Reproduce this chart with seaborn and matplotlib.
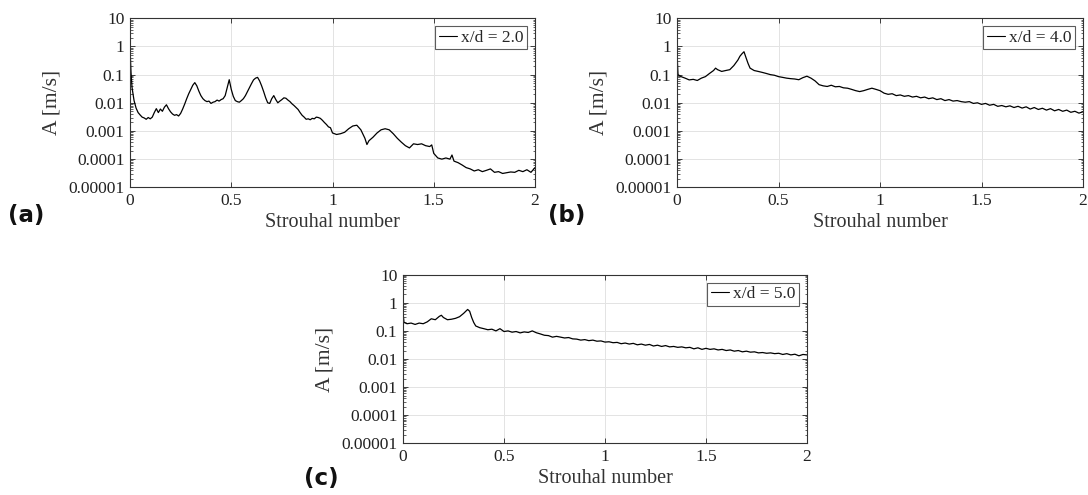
import numpy as np
import pandas as pd
import matplotlib
matplotlib.use("Agg")
import matplotlib.pyplot as plt
import matplotlib.ticker as mticker
import seaborn as sns

# ---------------- data ----------------
st_a = [0.00, 0.005, 0.01, 0.02, 0.03, 0.04, 0.05, 0.06, 0.07, 0.08, 0.09,
        0.10, 0.11, 0.12, 0.13, 0.14, 0.15, 0.16, 0.17, 0.18, 0.19,
        0.20, 0.21, 0.22, 0.23, 0.24, 0.25, 0.26, 0.27, 0.28, 0.29,
        0.30, 0.31, 0.32, 0.33, 0.34, 0.35, 0.36, 0.37, 0.38, 0.39,
        0.40, 0.41, 0.42, 0.43, 0.44, 0.45, 0.46, 0.47, 0.48, 0.49,
        0.50, 0.51, 0.52, 0.53, 0.54, 0.55, 0.56, 0.57, 0.58, 0.59,
        0.60, 0.61, 0.62, 0.63, 0.64, 0.65, 0.66, 0.67, 0.68, 0.69,
        0.70, 0.71, 0.72, 0.73, 0.74, 0.75, 0.76, 0.77, 0.78, 0.79,
        0.80, 0.81, 0.82, 0.83, 0.84, 0.85, 0.86, 0.87, 0.88, 0.89,
        0.90, 0.91, 0.92, 0.93, 0.94, 0.95, 0.96, 0.97, 0.98, 0.99,
        1.00, 1.02, 1.04, 1.06, 1.08, 1.10, 1.12, 1.14, 1.16, 1.17, 1.18,
        1.20, 1.22, 1.24, 1.26, 1.28, 1.30, 1.32, 1.34, 1.36, 1.38,
        1.40, 1.42, 1.44, 1.46, 1.48, 1.49, 1.50, 1.52, 1.54, 1.56, 1.58, 1.59,
        1.60, 1.62, 1.64, 1.66, 1.68, 1.70, 1.72, 1.74, 1.76, 1.78,
        1.80, 1.82, 1.84, 1.86, 1.88, 1.90, 1.92, 1.94, 1.96, 1.98, 2.00]
amp_a = [0.9, 0.12, 0.035, 0.012, 0.0065, 0.0045, 0.0037, 0.0031, 0.0029, 0.0026, 0.0030,
         0.0027, 0.0031, 0.0045, 0.0062, 0.0045, 0.0060, 0.0050, 0.0070, 0.0085, 0.0062,
         0.0048, 0.0040, 0.0036, 0.0038, 0.0034, 0.0042, 0.0060, 0.0090, 0.014, 0.021,
         0.030, 0.042, 0.052, 0.040, 0.026, 0.018, 0.014, 0.012, 0.011, 0.0115,
         0.0095, 0.0105, 0.011, 0.0125, 0.0115, 0.013, 0.014, 0.018, 0.035, 0.066,
         0.030, 0.017, 0.012, 0.011, 0.0105, 0.012, 0.014, 0.018, 0.025, 0.035,
         0.048, 0.065, 0.075, 0.080, 0.060, 0.040, 0.025, 0.015, 0.010, 0.0095,
         0.014, 0.018, 0.013, 0.010, 0.0115, 0.013, 0.015, 0.0145, 0.0125, 0.011,
         0.0092, 0.0080, 0.0068, 0.0058, 0.0045, 0.0036, 0.0031, 0.0026, 0.0027, 0.0025,
         0.0028, 0.0027, 0.0031, 0.0030, 0.0028, 0.0024, 0.0020, 0.0017, 0.0014, 0.0013,
         0.00085, 0.00075, 0.00080, 0.00090, 0.0012, 0.0015, 0.0016, 0.0011, 0.00055, 0.00033, 0.00045,
         0.00060, 0.00085, 0.0011, 0.0012, 0.0011, 0.00080, 0.00055, 0.00040, 0.00030, 0.00025,
         0.00035, 0.00033, 0.00035, 0.00030, 0.00028, 0.00032, 0.00016, 0.00011, 0.00010, 0.00011, 0.00010, 0.00014,
         0.000085, 0.000075, 0.000062, 0.000050, 0.000045, 0.000038, 0.000042, 0.000036, 0.000040, 0.000045,
         0.000034, 0.000036, 0.000031, 0.000033, 0.000035, 0.000034, 0.000040, 0.000036, 0.000042, 0.000034, 0.000050]

st_b = [0.00, 0.005, 0.02, 0.04, 0.06, 0.08, 0.10, 0.12, 0.14, 0.16, 0.18, 0.19,
        0.20, 0.22, 0.24, 0.26, 0.28, 0.30, 0.31, 0.32, 0.33, 0.34, 0.35, 0.36, 0.38,
        0.40, 0.42, 0.44, 0.46, 0.48, 0.50, 0.52, 0.54, 0.56, 0.58,
        0.60, 0.62, 0.64, 0.66, 0.68, 0.70, 0.72, 0.74, 0.76, 0.78,
        0.80, 0.82, 0.84, 0.86, 0.88, 0.90, 0.92, 0.94, 0.96, 0.98,
        1.00, 1.02, 1.04, 1.06, 1.08, 1.10, 1.12, 1.14, 1.16, 1.18,
        1.20, 1.22, 1.24, 1.26, 1.28, 1.30, 1.32, 1.34, 1.36, 1.38,
        1.40, 1.42, 1.44, 1.46, 1.48, 1.50, 1.52, 1.54, 1.56, 1.58,
        1.60, 1.62, 1.64, 1.66, 1.68, 1.70, 1.72, 1.74, 1.76, 1.78,
        1.80, 1.82, 1.84, 1.86, 1.88, 1.90, 1.92, 1.94, 1.96, 1.98, 2.00]
amp_b = [0.6, 0.10, 0.085, 0.075, 0.065, 0.068, 0.062, 0.075, 0.085, 0.11, 0.14, 0.17,
         0.15, 0.13, 0.14, 0.15, 0.21, 0.33, 0.45, 0.55, 0.65, 0.40, 0.25, 0.17, 0.14,
         0.13, 0.12, 0.11, 0.10, 0.095, 0.085, 0.080, 0.075, 0.072, 0.070,
         0.066, 0.078, 0.088, 0.075, 0.060, 0.044, 0.040, 0.038, 0.042, 0.037,
         0.038, 0.034, 0.033, 0.030, 0.027, 0.025, 0.027, 0.030, 0.033, 0.030,
         0.027, 0.022, 0.020, 0.021, 0.018, 0.019, 0.017, 0.018, 0.016, 0.017,
         0.015, 0.016, 0.014, 0.015, 0.013, 0.014, 0.012, 0.013, 0.0115, 0.012,
         0.011, 0.0105, 0.0110, 0.0095, 0.0100, 0.0088, 0.0095, 0.0082, 0.0088, 0.0075,
         0.0080, 0.0072, 0.0078, 0.0068, 0.0075, 0.0065, 0.0072, 0.0060, 0.0068, 0.0058,
         0.0064, 0.0055, 0.0062, 0.0052, 0.0058, 0.0050, 0.0055, 0.0046, 0.0050, 0.0043, 0.0048]

st_c = [0.00, 0.005, 0.02, 0.04, 0.06, 0.08, 0.10, 0.12, 0.14, 0.16, 0.18, 0.19,
        0.20, 0.22, 0.24, 0.26, 0.28, 0.30, 0.32, 0.33, 0.34, 0.35, 0.36, 0.38,
        0.40, 0.42, 0.44, 0.46, 0.48, 0.50, 0.52, 0.54, 0.56, 0.58,
        0.60, 0.62, 0.64, 0.66, 0.68, 0.70, 0.72, 0.74, 0.76, 0.78,
        0.80, 0.82, 0.84, 0.86, 0.88, 0.90, 0.92, 0.94, 0.96, 0.98,
        1.00, 1.02, 1.04, 1.06, 1.08, 1.10, 1.12, 1.14, 1.16, 1.18,
        1.20, 1.22, 1.24, 1.26, 1.28, 1.30, 1.32, 1.34, 1.36, 1.38,
        1.40, 1.42, 1.44, 1.46, 1.48, 1.50, 1.52, 1.54, 1.56, 1.58,
        1.60, 1.62, 1.64, 1.66, 1.68, 1.70, 1.72, 1.74, 1.76, 1.78,
        1.80, 1.82, 1.84, 1.86, 1.88, 1.90, 1.92, 1.94, 1.96, 1.98, 2.00]
amp_c = [0.45, 0.20, 0.18, 0.19, 0.17, 0.19, 0.18, 0.21, 0.27, 0.25, 0.33, 0.36,
         0.30, 0.25, 0.26, 0.28, 0.32, 0.42, 0.58, 0.50, 0.30, 0.20, 0.15, 0.13,
         0.12, 0.11, 0.115, 0.10, 0.12, 0.095, 0.10, 0.090, 0.095, 0.085,
         0.092, 0.088, 0.10, 0.086, 0.078, 0.070, 0.068, 0.060, 0.064, 0.060,
         0.056, 0.058, 0.052, 0.051, 0.047, 0.049, 0.045, 0.047, 0.043, 0.044,
         0.040, 0.041, 0.038, 0.039, 0.035, 0.037, 0.034, 0.036, 0.032, 0.034,
         0.031, 0.033, 0.029, 0.031, 0.028, 0.030, 0.027, 0.028, 0.026, 0.027,
         0.025, 0.026, 0.023, 0.025, 0.022, 0.024, 0.022, 0.023, 0.021, 0.022,
         0.020, 0.021, 0.019, 0.020, 0.018, 0.019, 0.0175, 0.018, 0.0165, 0.017,
         0.016, 0.0165, 0.0155, 0.016, 0.0145, 0.0155, 0.014, 0.0148, 0.013, 0.0145, 0.014]

series_labels = ["x/d = 2.0", "x/d = 4.0", "x/d = 5.0"]
panel_tags = ["(a)", "(b)", "(c)"]
x_ticks = [0, 0.5, 1, 1.5, 2]
x_tick_labels = ["0", "0.5", "1", "1.5", "2"]
y_ticks = [1e-5, 1e-4, 1e-3, 1e-2, 1e-1, 1, 10]
y_tick_labels = ["0.00001", "0.0001", "0.001", "0.01", "0.1", "1", "10"]
x_label = "Strouhal number"
y_label = "A [m/s]"

# ---------------- style ----------------
sns.set_theme(style="ticks")
plt.rcParams["font.family"] = ["Liberation Serif", "DejaVu Serif"]

W, H = 1088, 495
fig = plt.figure(figsize=(W / 100, H / 100), dpi=100)
fig.patch.set_facecolor("white")

# axes rectangles in pixels: (left, top, width, height)
rects = [(130, 18.3, 405, 169), (677, 18.3, 406, 169), (403, 274.7, 404, 168.6)]
tag_pos = [(8, 216), (548, 216), (304, 478)]

datasets = [(st_a, amp_a), (st_b, amp_b), (st_c, amp_c)]

for (st, amp), lab, rect, tag, tpos in zip(datasets, series_labels, rects, panel_tags, tag_pos):
    l, t, w, h = rect
    ax = fig.add_axes([l / W, 1 - (t + h) / H, w / W, h / H])
    df = pd.DataFrame({"St": st, "A": amp, "series": lab})
    sns.lineplot(data=df, x="St", y="A", hue="series", palette=["black"],
                 estimator=None, sort=False, lw=0.9, ax=ax)
    ax.set_yscale("log")
    ax.set_xlim(0, 2)
    ax.set_ylim(1e-5, 10)
    ax.set_xticks(x_ticks)
    ax.set_xticklabels(x_tick_labels)
    ax.set_yticks(y_ticks)
    ax.set_yticklabels(y_tick_labels)
    ax.yaxis.set_minor_locator(mticker.LogLocator(base=10, subs=np.arange(2, 10) * 1.0, numticks=20))
    ax.yaxis.set_minor_formatter(mticker.NullFormatter())
    ax.tick_params(axis="both", which="major", direction="in", length=3.5, width=0.6,
                   top=True, right=True, labelsize=12.5, pad=4, colors="#222222")
    ax.tick_params(axis="y", which="minor", direction="in", length=1.8, width=0.5,
                   left=True, right=True)
    ax.tick_params(axis="x", which="minor", bottom=False, top=False)
    ax.grid(True, which="major", color="#e3e3e3", lw=0.7)
    ax.set_axisbelow(True)
    for s in ax.spines.values():
        s.set_color("#333333")
        s.set_linewidth(0.8)
    ax.set_xlabel(x_label, fontsize=14.5, color="#333333", labelpad=3)
    ax.set_ylabel(y_label, fontsize=15.5, color="#333333", labelpad=5)
    leg = ax.legend(loc="upper right", fontsize=12.5, frameon=True, fancybox=False,
                    handlelength=1.05, handletextpad=0.25, borderpad=0.2,
                    borderaxespad=0.45, title=None)
    leg.get_frame().set_edgecolor("#333333")
    leg.get_frame().set_linewidth(0.8)
    for line in leg.get_lines():
        line.set_linewidth(0.8)
    fig.text(tpos[0] / W, 1 - tpos[1] / H, tag, fontsize=16.5, fontweight="bold",
             family="DejaVu Sans", va="center", ha="left", color="#111111")

fig.savefig("out.png", dpi=100, facecolor="white")
